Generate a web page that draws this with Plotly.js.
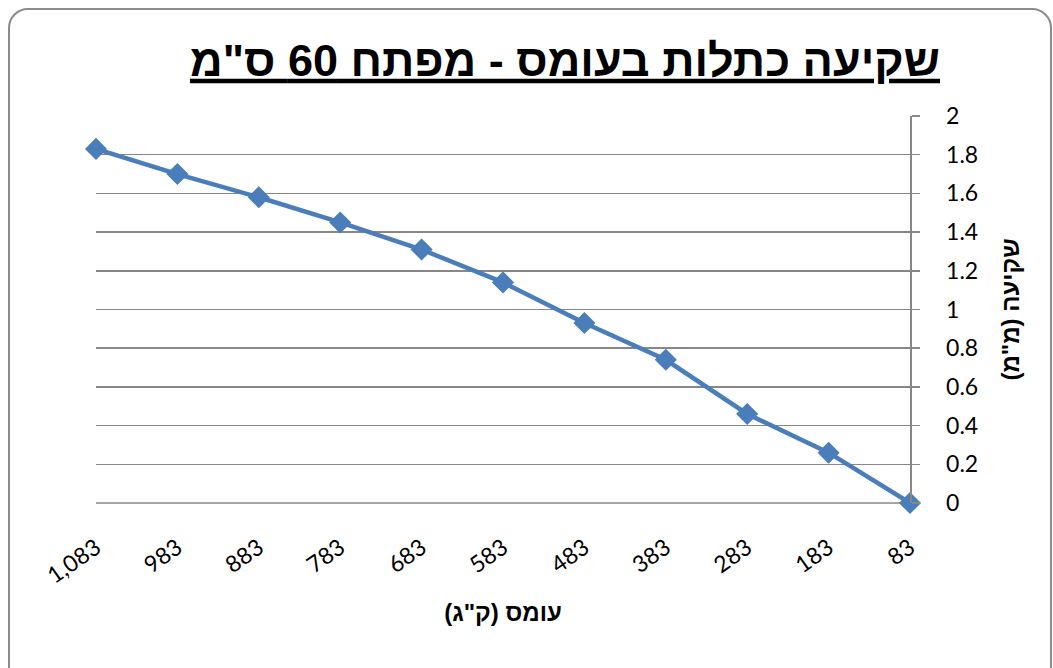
<!DOCTYPE html>
<html>
<head>
<meta charset="utf-8">
<script src="https://cdn.plot.ly/plotly-3.0.1.min.js"></script>
<style>
  html, body { margin: 0; padding: 0; background: #fff; }
  #wrap { position: relative; width: 1053px; height: 668px; overflow: hidden; }
  #chart { position: absolute; left: 0; top: 0; width: 1053px; height: 668px; }
  #frame { position: absolute; left: 8px; top: 8px; width: 1040px; height: 680px;
           border: 2px solid #8c8c8c; border-radius: 20px; pointer-events: none; }
</style>
</head>
<body>
<div id="wrap">
  <div id="chart"></div>
  <div id="frame"></div>
</div>
<script>
const loadLabels = ['1,083', '983', '883', '783', '683', '583', '483', '383', '283', '183', '83'];
const settlement = [1.83, 1.70, 1.58, 1.45, 1.31, 1.14, 0.93, 0.74, 0.46, 0.26, 0];

const chartTitle = 'שקיעה כתלות בעומס - מפתח 60 ס"מ';
const xTitle = 'עומס (ק"ג)';
const yTitle = 'שקיעה (מ"מ)';

const trace = {
  x: loadLabels,
  y: settlement,
  type: 'scatter',
  mode: 'lines+markers',
  line: { color: '#4a7ebb', width: 4.5 },
  marker: { symbol: 'diamond', size: 17, color: '#4a7ebb' },
  cliponaxis: false,
  hoverinfo: 'x+y'
};

const layout = {
  width: 1053,
  height: 668,
  margin: { l: 96, r: 143, t: 116, b: 165 },
  paper_bgcolor: '#ffffff',
  plot_bgcolor: '#ffffff',
  showlegend: false,
  title: {
    text: chartTitle,
    xref: 'container', yref: 'container',
    x: 565 / 1053, xanchor: 'center',
    y: 1 - 60 / 668, yanchor: 'middle',
    font: { family: 'Liberation Sans, Arial, sans-serif', size: 45, color: '#000', weight: 'bold', lineposition: 'under' }
  },
  xaxis: {
    type: 'category',
    categoryorder: 'array',
    categoryarray: loadLabels,
    range: [0, loadLabels.length - 1],
    showgrid: false,
    zeroline: false,
    showline: false,
    ticks: '',
    tickangle: -35,
    ticklabelstandoff: 26,
    tickfont: { family: 'Lato, "Noto Sans", sans-serif', size: 23, color: '#000' },
    title: {
      text: xTitle,
      standoff: 16,
      font: { family: 'Liberation Sans, Arial, sans-serif', size: 24, color: '#000', weight: 'bold' }
    }
  },
  yaxis: {
    side: 'right',
    range: [0, 2],
    dtick: 0.2,
    tick0: 0,
    showgrid: true,
    gridcolor: '#878787',
    gridwidth: 1.5,
    zeroline: false,
    showline: true,
    linecolor: '#878787',
    linewidth: 1.5,
    ticks: 'outside',
    ticklen: 8,
    tickwidth: 1.5,
    tickcolor: '#878787',
    ticklabelstandoff: 22,
    tickfont: { family: 'Lato, "Noto Sans", sans-serif', size: 23, color: '#000' },
    title: {
      text: yTitle,
      standoff: 25,
      font: { family: 'Liberation Sans, Arial, sans-serif', size: 24, color: '#000', weight: 'bold' }
    }
  },
  shapes: [
    { type: 'line', xref: 'paper', yref: 'paper', x0: 0, x1: 1, y0: 0, y1: 0,
      line: { color: '#878787', width: 1.5 }, layer: 'below' }
  ]
};

Plotly.newPlot('chart', [trace], layout, { displayModeBar: false, staticPlot: true });
</script>
</body>
</html>
